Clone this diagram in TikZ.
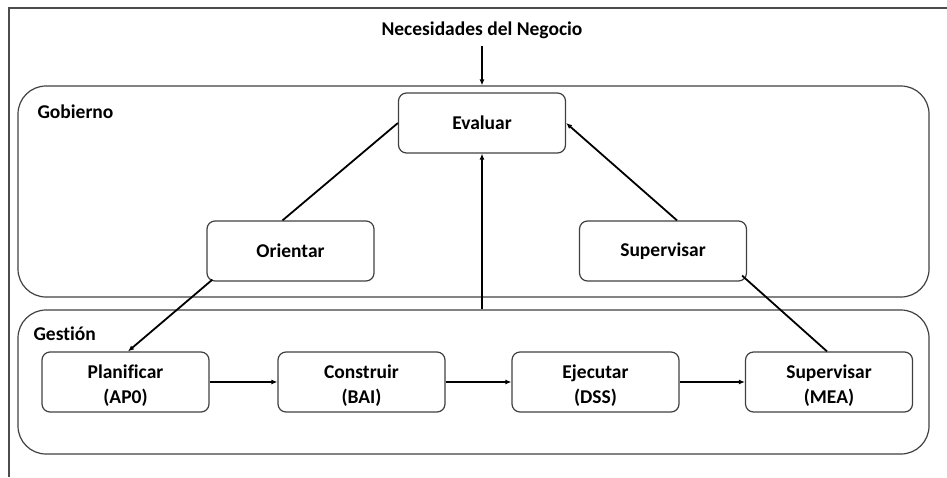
\documentclass[tikz,border=0pt]{standalone}
\usepackage{fontspec}
\setmainfont{Carlito}[Ligatures=NoCommon]
\usetikzlibrary{calc,arrows.meta}
\newcommand\twolines[2]{\raisebox{-4pt}[\height][\depth]{\begin{tabular}{@{}c@{}}#1\\#2\end{tabular}}}
\begin{document}
\begin{tikzpicture}[x=1pt,y=-1pt,
  lbl/.style={font=\fontsize{19.5}{25}\selectfont\bfseries, text=black},
  procbox/.style={draw=black!75, line width=1.2pt, rounded corners=8pt, minimum width=167pt, minimum height=60pt, inner sep=0pt, lbl},
  area/.style={draw=black!75, line width=1.2pt, rounded corners=28pt, inner sep=0pt},
  conn/.style={line width=1.8pt, black},
  arr/.style={conn, -{Latex[length=6pt,width=5pt]}}
]
\useasboundingbox (0,0) rectangle (947,477);
% outer frame
\draw[line width=1.4pt, black!70] (947,8) -- (9,8) -- (9,477);
% areas
\node[area, minimum width=911pt, minimum height=211pt] (gob) at (473.5,191.5) {};
\node[area, minimum width=911pt, minimum height=144pt] (ges) at (473.5,382) {};
\node[lbl, anchor=west] (gobl) at (34,112) {Gobierno};
\node[lbl, anchor=west] (gesl) at (30,334) {Gestión};
% title
\node[lbl] (nec) at (482,30) {Necesidades del Negocio};
% boxes
\node[procbox] (ev) at (482,123) {Evaluar};
\node[procbox] (or) at (290.5,251) {Orientar};
\node[procbox] (sup) at (663,251) {Supervisar};
\node[procbox] (pl) at (125.5,382) {\twolines{Planificar}{(AP0)}};
\node[procbox] (co) at (361.5,382) {\twolines{Construir}{(BAI)}};
\node[procbox] (ej) at (595.5,382) {\twolines{Ejecutar}{(DSS)}};
\node[procbox] (mea) at (829,382) {\twolines{Supervisar}{(MEA)}};
% connectors
\coordinate (necend) at (nec.south |- gob.north);
\draw[arr] ($(nec.south)+(0,4)$) -- (necend);
\draw[conn] ($(or.north)+(-8,0)$) -- (ev.west);
\draw[arr] ($(sup.north)+(14,0)$) -- (ev.east);
\coordinate (gesup) at (ev.south |- ges.north);
\draw[arr] (gesup) -- (ev.south);
\draw[arr] ($(or.south west)+(6,-2)$) -- ($(pl.north)+(2.5,0)$);
\draw[conn] ($(sup.south east)+(-5,-6)$) -- ($(mea.north)+(-2,0)$);
\draw[arr] (pl.east) -- (co.west);
\draw[arr] (co.east) -- (ej.west);
\draw[arr] (ej.east) -- (mea.west);
\end{tikzpicture}
\end{document}
